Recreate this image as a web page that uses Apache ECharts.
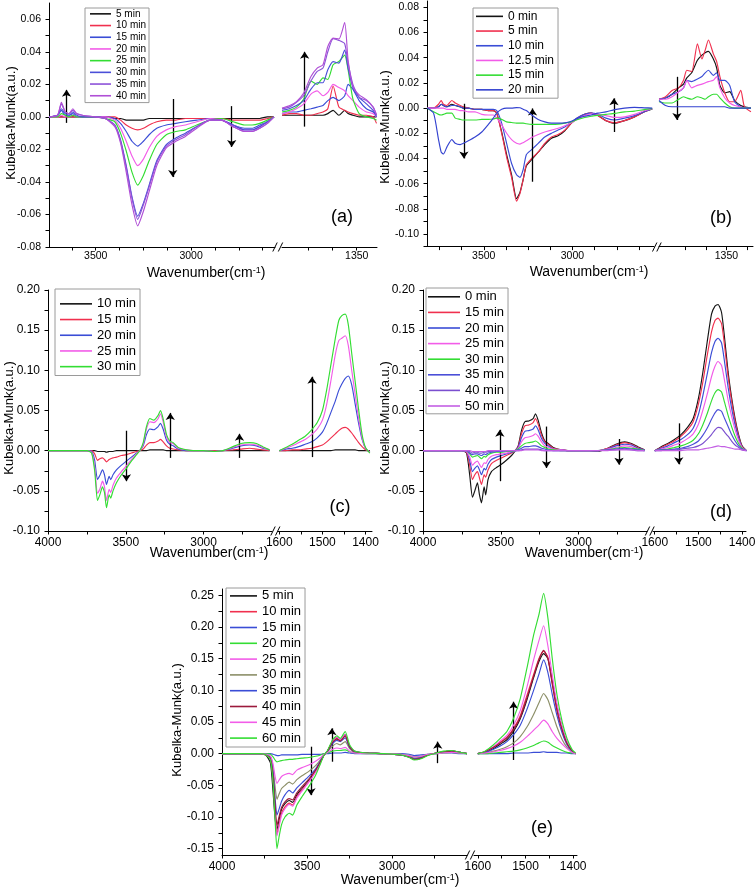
<!DOCTYPE html>
<html><head><meta charset="utf-8">
<script src="https://cdn.jsdelivr.net/npm/echarts@6/dist/echarts.min.js"></script>
<style>html,body{margin:0;padding:0;background:#fff}#c{width:756px;height:896px}</style>
</head><body><div id="c"></div>
<script>
const FF = '"Liberation Sans", Arial, sans-serif';

// ---------------- Panel (a) ----------------
const aXL = [3745,3700,3680,3660,3640,3620,3600,3570,3500,3450, 3400,3370,3340,3310,3280,3250,3220,3180,3130,3080, 3030,2970,2900,2840,2780,2720,2680,2640,2600,2565];
const aXR = [1505,1490,1475,1460,1445,1432,1420,1410,1399,1387,1375,1368,1358,1345,1330,1316,1309];
const a05L = [0,0,0,0,0,0,0,0,0,0, -0.001,-0.001,-0.002,-0.002,-0.002,-0.002,-0.001,-0.001,-0.001,-0.001, -0.001,-0.001,-0.001,-0.001,-0.001,-0.001,-0.001,-0.001,0,0];
const a10L = [0,0,0,0,0,0,0,0,0,0, 0,-0.002,-0.005,-0.007,-0.008,-0.007,-0.005,-0.003,-0.002,-0.002, -0.001,-0.001,-0.001,-0.001,-0.002,-0.002,-0.002,-0.002,-0.001,0];
const a15L = [0,0.001,0.004,0.001,0.001,0.002,0,0,0,0, -0.001,-0.004,-0.009,-0.015,-0.018,-0.015,-0.011,-0.007,-0.005,-0.004, -0.003,-0.002,-0.001,-0.002,-0.005,-0.007,-0.007,-0.005,-0.003,0];
const a20L = [0,0,0.001,0,0,0.001,0,0,0,0, -0.002,-0.007,-0.015,-0.024,-0.030,-0.026,-0.019,-0.012,-0.008,-0.006, -0.005,-0.003,-0.001,-0.002,-0.005,-0.008,-0.008,-0.006,-0.003,0];
const a25L = [0,0,0.002,0.001,0,0.001,0,0,0,-0.001, -0.003,-0.010,-0.021,-0.034,-0.042,-0.036,-0.027,-0.017,-0.011,-0.009, -0.008,-0.005,-0.002,-0.001,-0.003,-0.005,-0.005,-0.004,-0.002,0];
const a30L = [0,0.001,0.005,0.002,0.001,0.003,0.001,0,0,-0.001, -0.005,-0.014,-0.030,-0.049,-0.061,-0.053,-0.042,-0.027,-0.017,-0.013, -0.010,-0.006,-0.002,-0.002,-0.005,-0.008,-0.008,-0.006,-0.003,0];
const a35L = [0,0.001,0.008,0.003,0.002,0.004,0.002,0.001,0,-0.001, -0.005,-0.015,-0.031,-0.050,-0.063,-0.054,-0.043,-0.028,-0.018,-0.014, -0.011,-0.006,-0.002,-0.002,-0.006,-0.009,-0.009,-0.007,-0.004,0];
const a40L = [0,0.001,0.009,0.003,0.002,0.005,0.002,0.001,0,-0.001, -0.006,-0.016,-0.034,-0.054,-0.067,-0.058,-0.046,-0.030,-0.019,-0.015, -0.012,-0.007,-0.002,-0.002,-0.006,-0.009,-0.009,-0.007,-0.004,0];
const a05R = [0.001,0.001,0.001,0.001,0.001,0.001,0.001,0.002,0.004,0.001,0.004,0.002,0.001,0,0,0,0];
const a10R = [0.001,0.002,0.002,0.001,0.001,0.002,0.003,0.005,0.019,0.006,0.004,0.003,0.002,0.001,0.001,0,-0.004];
const a15R = [0.002,0.003,0.003,0.004,0.005,0.006,0.007,0.010,0.012,0.010,0.013,0.020,0.017,0.010,0.005,0.003,0.001];
const a20R = [0.002,0.003,0.005,0.008,0.014,0.016,0.013,0.015,0.020,0.018,0.016,0.013,0.010,0.006,0.003,0.002,0];
const a25R = [0.003,0.004,0.006,0.011,0.022,0.020,0.024,0.023,0.032,0.034,0.038,0.029,0.011,0.002,0,-0.001,-0.002];
const a30R = [0.004,0.005,0.007,0.010,0.017,0.021,0.021,0.029,0.034,0.033,0.041,0.030,0.018,0.012,0.008,0.004,0];
const a35R = [0.005,0.006,0.009,0.013,0.022,0.028,0.030,0.040,0.048,0.047,0.045,0.033,0.020,0.012,0.010,0.006,0.001];
const a40R = [0.0054,0.0068,0.0094,0.0146,0.0248,0.030,0.032,0.0433,0.0484,0.0478,0.058,0.035,0.0186,0.0135,0.0105,0.006,0.0012];
const aYLabels = [-0.08,-0.06,-0.04,-0.02,0,0.02,0.04,0.06];
const aYTicks = [-0.08,-0.07,-0.06,-0.05,-0.04,-0.03,-0.02,-0.01,0,0.01,0.02,0.03,0.04,0.05,0.06];
const aXLabelsL = [3500,3000];
const aXTicksL = [3625,3500,3375,3250,3125,3000,2875,2750,2625];
const aXLabelsR = [1350];
const aXTicksR = [1450,1400,1350];
const aArrows = [['L',3653,-0.0037,0.0166],['L',3096,0.011,-0.037],['L',2787,0.0066,-0.0185],['R',1458,-0.006,0.040]];

// ---------------- Panel (b) ----------------
const bXL = [3820,3783,3755,3740,3727,3708,3680,3661,3633,3615, 3587,3549,3511,3474,3446,3427,3399,3371,3343,3315, 3296,3278,3260,3230,3193,3156,3118,3081,3043,3006, 2969,2931,2894,2857,2811,2762,2706,2650,2594,2550];
const bXR = [1515,1499,1483,1467,1455,1447,1435,1421,1410,1402,1394,1382,1374,1366,1354,1342,1330,1315,1306,1290];
const b00L = [0,0,0.001,0.003,0.002,0.001,0.003,0.002,0.001,0, 0,-0.001,-0.001,-0.002,-0.002,-0.004,-0.019,-0.037,-0.053,-0.072, -0.067,-0.057,-0.046,-0.041,-0.035,-0.029,-0.024,-0.022,-0.018,-0.012, -0.008,-0.005,-0.004,-0.006,-0.010,-0.012,-0.010,-0.007,-0.003,-0.001];
const b05L = [0,0,0.003,0.006,0.003,0.002,0.006,0.004,0.002,0.001, 0,-0.001,-0.001,-0.002,-0.002,-0.004,-0.020,-0.039,-0.055,-0.074, -0.068,-0.057,-0.045,-0.040,-0.035,-0.028,-0.023,-0.021,-0.0175,-0.012, -0.0075,-0.005,-0.004,-0.006,-0.010,-0.0117,-0.010,-0.007,-0.003,-0.0005];
const b10L = [0,0,0.001,0.003,0.002,0.001,0.002,0.002,0.001,0, 0,-0.001,-0.001,-0.001,-0.001,-0.002,-0.012,-0.028,-0.044,-0.053, -0.055,-0.049,-0.037,-0.033,-0.028,-0.023,-0.020,-0.0175,-0.015,-0.011, -0.0074,-0.005,-0.004,-0.005,-0.008,-0.0095,-0.008,-0.006,-0.003,-0.0005];
const b125L = [0,0,0,0,0,-0.001,-0.001,-0.001,-0.002,-0.002, -0.003,-0.003,-0.005,-0.0055,-0.0055,-0.008,-0.0134,-0.020,-0.025,-0.028, -0.0286,-0.0275,-0.026,-0.0233,-0.021,-0.019,-0.0175,-0.016,-0.014,-0.0117, -0.0085,-0.006,-0.0045,-0.0048,-0.006,-0.0074,-0.007,-0.005,-0.002,-0.0005];
const b15L = [0,-0.003,-0.005,-0.0055,-0.005,-0.004,-0.004,-0.008,-0.009,-0.0095, -0.0095,-0.0095,-0.009,-0.009,-0.0087,-0.008,-0.009,-0.011,-0.0115,-0.012, -0.012,-0.012,-0.0125,-0.013,-0.013,-0.013,-0.013,-0.0128,-0.012,-0.011, -0.009,-0.0075,-0.0065,-0.0058,-0.005,-0.0042,-0.003,-0.0024,-0.0012,-0.0005];
const b20L = [0,-0.004,-0.025,-0.035,-0.0365,-0.031,-0.025,-0.028,-0.029,-0.028, -0.026,-0.023,-0.019,-0.013,-0.008,-0.004,-0.001,0,0,0.0003, 0.0002,-0.001,-0.002,-0.0055,-0.009,-0.011,-0.012,-0.012,-0.0118,-0.0105, -0.008,-0.0065,-0.0055,-0.004,-0.003,-0.0012,0,0.0005,0.0002,0];
const b00R = [0.007,0.008,0.011,0.016,0.019,0.024,0.028,0.038,0.042,0.044,0.045,0.039,0.032,0.018,0.012,0.013,0.006,0.002,0.001,0];
const b05R = [0.007,0.009,0.014,0.016,0.022,0.030,0.029,0.051,0.039,0.046,0.054,0.043,0.037,0.025,0.012,0.005,0.005,0.014,0.001,-0.003];
const b10R = [0.007,0.008,0.011,0.013,0.016,0.022,0.021,0.023,0.025,0.028,0.030,0.026,0.028,0.022,0.022,0.018,0.005,0.001,0,0];
const b125R = [0.007,0.007,0.009,0.013,0.016,0.022,0.016,0.018,0.019,0.020,0.021,0.022,0.025,0.016,0.008,0.004,0.002,0.001,0,0];
const b15R = [0.005,0.004,0.004,0.007,0.009,0.008,0.007,0.009,0.008,0.007,0.009,0.011,0.011,0.008,0.004,0.001,0,0,0,0];
const b20R = [0.006,0.002,0.001,0.001,0.001,0.001,0.001,0.001,0.001,0.001,0.001,0.001,0.001,0.001,0.001,0,0,0,0,0];
const bYLabels = [-0.10,-0.08,-0.06,-0.04,-0.02,0,0.02,0.04,0.06,0.08];
const bYTicks = [-0.11,-0.10,-0.09,-0.08,-0.07,-0.06,-0.05,-0.04,-0.03,-0.02,-0.01,0,0.01,0.02,0.03,0.04,0.05,0.06,0.07,0.08];
const bXLabelsL = [3500,3000];
const bXTicksL = [3750,3625,3500,3375,3250,3125,3000,2875,2750,2625];
const bXLabelsR = [1350];
const bXTicksR = [1450,1400,1350,1300];
const bArrows = [['L',3612,0.0034,-0.040],['L',3225,-0.0585,-0.0003],['L',2766,-0.019,0.0077],['R',1471,0.0248,-0.0095]];

// ---------------- Panels (c) and (d) ----------------
const cdXL = [4000,3850,3750,3720,3700,3682,3667,3650,3637,3624, 3607,3597,3582,3560,3528,3496,3464,3431,3410,3388, 3367,3345,3320,3292,3277,3260,3238,3217,3195,3163, 3109,3066,3000,2930,2876,2812,2760,2704,2660,2619, 2576];
const cdXR = [1600,1585,1570,1555,1540,1525,1512,1500,1490,1480,1470,1462,1455,1447,1440,1432,1424,1416,1408,1400,1390];
const c10L = [0,0,0,0,0,-0.001,-0.001,-0.001,-0.001,-0.002, -0.001,-0.001,-0.001,0,0,0,0,0,0,0, 0,0.001,0.001,0.001,0.001,0.001,0,0,0,0, 0,0,0,0,0,0,0,0,0,0, 0];
const c15L = [0,0,0,0,-0.004,-0.012,-0.010,-0.009,-0.011,-0.014, -0.011,-0.010,-0.009,-0.008,-0.006,-0.005,-0.003,-0.001,0,0.002, 0.007,0.010,0.010,0.012,0.014,0.011,0.006,0.003,0.002,0.001, 0,0,0,0,0,0.001,0.002,0.003,0.002,0.001, 0];
const c20L = [0,0,0,-0.001,-0.012,-0.036,-0.031,-0.024,-0.030,-0.042, -0.032,-0.036,-0.030,-0.024,-0.018,-0.013,-0.008,-0.003,0,0.006, 0.020,0.027,0.026,0.030,0.034,0.027,0.013,0.008,0.006,0.002, 0,0,0,-0.001,0,0.003,0.006,0.007,0.006,0.003, 0.001];
const c25L = [0,0,0,-0.002,-0.020,-0.053,-0.048,-0.038,-0.045,-0.062, -0.048,-0.052,-0.043,-0.034,-0.026,-0.019,-0.011,-0.004,0,0.008, 0.027,0.036,0.035,0.040,0.046,0.036,0.017,0.010,0.009,0.003, 0.001,0,0,-0.001,0,0.004,0.007,0.008,0.007,0.004, 0.001];
const c30L = [0,0,0,-0.003,-0.025,-0.062,-0.055,-0.045,-0.052,-0.071, -0.055,-0.059,-0.050,-0.040,-0.030,-0.022,-0.013,-0.005,0,0.010, 0.030,0.040,0.038,0.044,0.050,0.040,0.020,0.012,0.010,0.004, 0.001,0,0,-0.001,0,0.005,0.009,0.010,0.009,0.005, 0.001];
const c10R = [0,0,0,0,0,0,0,0,0,0,0.001,0.001,0.001,0.001,0.001,0.001,0.001,0,0,0,0];
const c15R = [0,0,0.001,0.001,0.002,0.003,0.005,0.007,0.011,0.016,0.021,0.025,0.028,0.029,0.027,0.022,0.016,0.010,0.005,0.001,-0.001];
const c20R = [0,0.002,0.003,0.005,0.008,0.011,0.016,0.023,0.034,0.048,0.062,0.075,0.083,0.090,0.093,0.082,0.058,0.034,0.014,0.003,-0.002];
const c25R = [0,0.003,0.006,0.010,0.014,0.020,0.027,0.038,0.058,0.088,0.120,0.137,0.140,0.143,0.131,0.100,0.070,0.040,0.016,0.003,-0.002];
const c30R = [0,0.004,0.008,0.013,0.018,0.026,0.035,0.050,0.076,0.108,0.140,0.162,0.168,0.170,0.157,0.121,0.086,0.051,0.020,0.004,-0.003];
const d00L = [0,0,0,-0.003,-0.030,-0.058,-0.050,-0.040,-0.055,-0.065, -0.045,-0.055,-0.036,-0.026,-0.021,-0.017,-0.012,-0.006,-0.001,0.006, 0.025,0.036,0.037,0.040,0.046,0.038,0.022,0.012,0.009,0.004, 0.001,0,0,0,-0.001,0.003,0.008,0.011,0.009,0.005, 0.001];
const d15L = [0,0,0,-0.002,-0.018,-0.036,-0.030,-0.026,-0.034,-0.042, -0.030,-0.033,-0.024,-0.016,-0.012,-0.009,-0.006,-0.003,0,0.005, 0.021,0.031,0.032,0.035,0.040,0.033,0.019,0.011,0.008,0.003, 0.001,0,0,0,0,0.003,0.007,0.010,0.008,0.004, 0.001];
const d20L = [0,0,0,-0.001,-0.012,-0.026,-0.022,-0.019,-0.024,-0.030, -0.022,-0.024,-0.017,-0.011,-0.008,-0.006,-0.004,-0.002,0,0.004, 0.016,0.024,0.025,0.027,0.031,0.026,0.015,0.009,0.006,0.002, 0.001,0,0,0,0,0.002,0.006,0.008,0.007,0.003, 0.001];
const d25L = [0,0,0,-0.001,-0.008,-0.018,-0.015,-0.013,-0.017,-0.021, -0.015,-0.016,-0.011,-0.007,-0.005,-0.004,-0.003,-0.001,0,0.003, 0.011,0.016,0.017,0.019,0.021,0.018,0.011,0.006,0.004,0.002, 0.001,0,0,0,0,0.002,0.004,0.006,0.005,0.002, 0];
const d30L = [0,0,0,0,-0.004,-0.008,-0.007,-0.006,-0.008,-0.010, -0.007,-0.008,-0.005,-0.003,-0.002,-0.002,-0.001,-0.001,0,0.002, 0.006,0.009,0.010,0.011,0.012,0.010,0.006,0.004,0.002,0.001, 0,0,0,0,0,0.001,0.003,0.004,0.003,0.002, 0];
const d35L = [0,0,0,0,-0.003,-0.005,-0.004,-0.004,-0.005,-0.006, -0.004,-0.005,-0.003,-0.002,-0.001,-0.001,0,0,0,0.001, 0.003,0.005,0.005,0.006,0.006,0.005,0.003,0.002,0.001,0, 0,0,0,0,0,0.001,0.002,0.003,0.002,0.001, 0];
const d40L = [0,0,0,0,-0.001,-0.003,-0.002,-0.002,-0.003,-0.003, -0.002,-0.002,-0.001,-0.001,0,0,0,0,0,0, 0.001,0.002,0.002,0.002,0.002,0.002,0.001,0,0,0, 0,0,0,0,0,0.001,0.001,0.002,0.001,0, 0];
const d50L = [0,0,0,0,0,-0.001,-0.001,-0.001,-0.001,-0.001, -0.001,-0.001,0,0,0,0,0,0,0,0, 0,0.001,0.001,0.001,0.001,0.001,0,0,0,0, 0,0,0,0,0,0,0.001,0.001,0.001,0, 0];
const d00R = [0,0.005,0.009,0.014,0.020,0.029,0.040,0.065,0.097,0.135,0.170,0.180,0.182,0.172,0.140,0.098,0.066,0.040,0.020,0.006,0];
const d15R = [0,0.004,0.008,0.012,0.018,0.026,0.036,0.058,0.085,0.118,0.148,0.162,0.165,0.158,0.130,0.092,0.062,0.037,0.018,0.005,0];
const d20R = [0,0.003,0.006,0.010,0.014,0.020,0.028,0.045,0.068,0.095,0.122,0.136,0.140,0.134,0.110,0.079,0.053,0.032,0.016,0.004,0];
const d25R = [0,0.002,0.004,0.007,0.010,0.015,0.021,0.033,0.050,0.070,0.092,0.105,0.111,0.106,0.087,0.063,0.043,0.026,0.013,0.004,0];
const d30R = [0,0.001,0.002,0.004,0.006,0.009,0.013,0.021,0.032,0.046,0.062,0.072,0.076,0.073,0.060,0.044,0.030,0.018,0.009,0.003,0];
const d35R = [0,0.001,0.001,0.002,0.003,0.005,0.008,0.012,0.019,0.028,0.039,0.047,0.051,0.049,0.040,0.030,0.020,0.012,0.006,0.002,0];
const d40R = [0,0,0.001,0.001,0.002,0.003,0.004,0.006,0.009,0.014,0.020,0.026,0.029,0.028,0.023,0.018,0.012,0.007,0.004,0.001,0];
const d50R = [0,0,0,0,0,0.001,0.001,0.001,0.002,0.003,0.004,0.005,0.006,0.005,0.005,0.004,0.003,0.002,0.002,0.001,0];
const cdYLabels = [-0.10,-0.05,0,0.05,0.10,0.15,0.20];
const cdYTicks = [-0.10,-0.075,-0.05,-0.025,0,0.025,0.05,0.075,0.10,0.125,0.15,0.175,0.20];
const cdeXLabelsL = [4000,3500,3000];
const cdeXTicksL = [4000,3750,3500,3250,3000,2750];
const cdeXLabelsR = [1600,1500,1400];
const cdeXTicksR = [1600,1550,1500,1450,1400];
const cArrows = [['L',3496,0.0248,-0.038],['L',3214,-0.009,0.047],['L',2769,-0.009,0.021],['R',1524,-0.008,0.092]];
const dArrows = [['L',3506,-0.038,0.026],['L',3206,0.030,-0.0215],['L',2740,0.0145,-0.0174],['R',1545,0.034,-0.017]];

// ---------------- Panel (e) ----------------
const eXL = [4000,3780,3740,3715,3700,3688,3677,3665,3650,3630, 3605,3585,3560,3530,3490,3450,3420,3400,3380,3350, 3325,3305,3276,3250,3220,3150,3050,2950,2900,2870, 2830,2790,2740,2700,2650,2600,2560];
const eXR = [1600,1585,1567,1553,1539,1525,1511,1497,1483,1472,1462,1453,1444,1434,1423,1413,1402,1395];
const e05L = [0,0,-0.003,-0.015,-0.060,-0.102,-0.120,-0.105,-0.088,-0.079, -0.074,-0.077,-0.065,-0.055,-0.042,-0.027,-0.012,-0.002,0.004,0.019, 0.025,0.021,0.030,0.011,0.003,0.001,0,-0.002,-0.005,-0.009, -0.007,-0.002,0.001,0.003,0.004,0.002,0];
const e10L = [0,0,-0.002,-0.008,-0.038,-0.090,-0.127,-0.112,-0.094,-0.084, -0.078,-0.081,-0.068,-0.057,-0.044,-0.028,-0.013,-0.002,0.004,0.019, 0.025,0.021,0.029,0.011,0.003,0.001,0,-0.002,-0.005,-0.009, -0.007,-0.002,0.001,0.003,0.004,0.002,0];
const e15L = [0,0,0,0,-0.001,-0.002,-0.003,-0.003,-0.002,-0.002, -0.002,-0.002,-0.002,-0.001,-0.001,-0.001,-0.001,0,0,0.001, 0.001,0.001,0.002,0.001,0,0,0,0,-0.001,-0.003, -0.002,-0.001,0,0.001,0.001,0,0];
const e20L = [0,0,0,-0.001,-0.005,-0.010,-0.013,-0.012,-0.011,-0.010, -0.009,-0.009,-0.008,-0.007,-0.006,-0.004,-0.002,0,0.001,0.004, 0.005,0.005,0.006,0.003,0.001,0,0,-0.001,-0.003,-0.005, -0.004,-0.001,0,0.001,0.002,0.001,0];
const e25L = [0,0,-0.002,-0.008,-0.040,-0.093,-0.130,-0.116,-0.097,-0.087, -0.080,-0.083,-0.070,-0.059,-0.045,-0.029,-0.013,-0.002,0.004,0.020, 0.026,0.022,0.030,0.012,0.004,0.001,0,-0.002,-0.005,-0.009, -0.007,-0.002,0.001,0.003,0.004,0.002,0];
const e30L = [0,0,-0.001,-0.005,-0.022,-0.052,-0.072,-0.064,-0.055,-0.050, -0.045,-0.048,-0.041,-0.035,-0.028,-0.019,-0.009,-0.001,0.003,0.012, 0.016,0.014,0.019,0.008,0.002,0.001,0,-0.001,-0.004,-0.007, -0.005,-0.002,0.001,0.002,0.003,0.001,0];
const e35L = [0,0,-0.001,-0.006,-0.029,-0.070,-0.097,-0.088,-0.075,-0.065, -0.058,-0.062,-0.054,-0.046,-0.036,-0.024,-0.011,-0.002,0.004,0.016, 0.021,0.019,0.025,0.010,0.003,0.001,0,-0.002,-0.005,-0.008, -0.006,-0.002,0.001,0.003,0.004,0.002,0];
const e40L = [0,0,-0.002,-0.007,-0.034,-0.080,-0.113,-0.100,-0.085,-0.076, -0.071,-0.073,-0.062,-0.052,-0.040,-0.026,-0.012,-0.002,0.004,0.018, 0.023,0.020,0.028,0.011,0.003,0.001,0,-0.002,-0.005,-0.009, -0.007,-0.002,0.001,0.003,0.004,0.002,0];
const e45L = [0,0,-0.001,-0.004,-0.016,-0.036,-0.047,-0.042,-0.036,-0.033, -0.031,-0.033,-0.026,-0.022,-0.018,-0.012,-0.006,-0.001,0.002,0.007, 0.009,0.008,0.010,0.004,0.001,0,0,-0.001,-0.003,-0.005, -0.004,-0.001,0,0.001,0.002,0.001,0];
const e60L = [0,0,-0.002,-0.010,-0.045,-0.105,-0.150,-0.132,-0.112,-0.100, -0.094,-0.097,-0.081,-0.068,-0.052,-0.034,-0.015,-0.002,0.005,0.022, 0.028,0.024,0.035,0.014,0.004,0.001,0,-0.002,-0.006,-0.010, -0.008,-0.003,0.001,0.004,0.005,0.002,0];
const e05R = [0,0.002,0.008,0.015,0.022,0.035,0.055,0.085,0.120,0.145,0.158,0.150,0.115,0.075,0.040,0.018,0.004,0];
const e10R = [0,0.003,0.010,0.018,0.026,0.040,0.060,0.092,0.125,0.150,0.162,0.152,0.112,0.070,0.038,0.017,0.004,0];
const e15R = [0,0,0,0,0,0.001,0.001,0.001,0.002,0.002,0.003,0.002,0.002,0.002,0.001,0.001,0,0];
const e20R = [0,0,0.001,0.002,0.003,0.004,0.006,0.009,0.013,0.017,0.020,0.018,0.013,0.009,0.005,0.002,0.001,0];
const e25R = [0,0.003,0.011,0.020,0.029,0.045,0.068,0.105,0.148,0.178,0.202,0.170,0.125,0.078,0.042,0.019,0.005,0];
const e30R = [0,0.001,0.004,0.007,0.011,0.017,0.027,0.042,0.062,0.080,0.095,0.085,0.065,0.042,0.022,0.010,0.002,0];
const e35R = [0,0.002,0.007,0.012,0.019,0.030,0.045,0.070,0.100,0.125,0.148,0.128,0.094,0.060,0.032,0.014,0.003,0];
const e40R = [0,0.003,0.010,0.017,0.025,0.038,0.057,0.088,0.122,0.148,0.163,0.150,0.110,0.068,0.037,0.016,0.004,0];
const e45R = [0,0.001,0.003,0.005,0.008,0.012,0.018,0.027,0.037,0.045,0.053,0.047,0.035,0.024,0.015,0.008,0.002,0];
const e60R = [0,0.004,0.014,0.024,0.035,0.056,0.087,0.135,0.187,0.219,0.253,0.214,0.151,0.093,0.050,0.024,0.006,0.001];
const eYLabels = [-0.15,-0.10,-0.05,0,0.05,0.10,0.15,0.20,0.25];
const eYTicks = [-0.15,-0.125,-0.10,-0.075,-0.05,-0.025,0,0.025,0.05,0.075,0.10,0.125,0.15,0.175,0.20,0.225,0.25];
const eArrows = [['L',3477,0.011,-0.0655],['L',3354,-0.0127,0.040],['L',2732,-0.015,0.019],['R',1525,-0.010,0.082]];

// ---------------- colours ----------------
const C = {black:'#141414', red:'#f0304e', blue:'#3a4dd6', magenta:'#f25ce8', green:'#33dd33',
  blueA:'#4b4fd8', purple:'#8d52d8', violet:'#b04fd6', blueB:'#3342d0', purpleD:'#7b4fcf', pinkD:'#c35fe4',
  olive:'#8c8f68', darkred:'#9c1a3c'};

const panels = [
 {key:'a', yMin:-0.08, yMax:0.07, top:3, height:244, yLabels:aYLabels, yTicks:aYTicks, fs:10.5, xm:4, ym:8,
  L:{left:49,width:226,min:2560,max:3745,labels:aXLabelsL,ticks:aXTicksL,x:aXL},
  R:{left:282,width:95,min:1308,max:1505,labels:aXLabelsR,ticks:aXTicksR,x:aXR},
  series:[['5 min',C.black,a05L,a05R],['10 min',C.red,a10L,a10R],['15 min',C.blue,a15L,a15R],['20 min',C.magenta,a20L,a20R],
          ['25 min',C.green,a25L,a25R],['30 min',C.blueA,a30L,a30R],['35 min',C.purple,a35L,a35R],['40 min',C.violet,a40L,a40R]],
  arrows:aArrows,
  legend:{left:85,top:8,padding:[0,3,1,5],itemWidth:21,fontSize:10,lineHeight:11.7},
  title:[206,273], yname:[11,123], tag:['(a)',342,217], brk:[275,280.5], brkY:247},
 {key:'b', yMin:-0.11, yMax:0.085, top:1, height:245.6, yLabels:bYLabels, yTicks:bYTicks, fs:10.5, xm:4, ym:8,
  L:{left:427,width:227,min:2540,max:3820,labels:bXLabelsL,ticks:bXTicksL,x:bXL},
  R:{left:659,width:94,min:1285,max:1515,labels:bXLabelsR,ticks:bXTicksR,x:bXR},
  series:[['0 min',C.black,b00L,b00R],['5 min',C.red,b05L,b05R],['10 min',C.blue,b10L,b10R],['12.5 min',C.magenta,b125L,b125R],
          ['15 min',C.green,b15L,b15R],['20 min',C.blueB,b20L,b20R]],
  arrows:bArrows,
  legend:{left:473,top:8,padding:[1,4,1,3],itemWidth:27,fontSize:12,lineHeight:14.7},
  title:[589,272], yname:[385,127], tag:['(b)',721,218], brk:[654.7,659], brkY:247},
 {key:'c', yMin:-0.10, yMax:0.20, top:290, height:241, yLabels:cdYLabels, yTicks:cdYTicks, fs:12, xm:6, ym:8,
  L:{left:48,width:224,min:2560,max:4000,labels:cdeXLabelsL,ticks:cdeXTicksL,x:cdXL},
  R:{left:278,width:94,min:1385,max:1603,labels:cdeXLabelsR,ticks:cdeXTicksR,x:cdXR},
  series:[['10 min',C.black,c10L,c10R],['15 min',C.red,c15L,c15R],['20 min',C.blue,c20L,c20R],['25 min',C.magenta,c25L,c25R],['30 min',C.green,c30L,c30R]],
  arrows:cArrows,
  legend:{left:55,top:289,padding:[7,4,1,5],itemWidth:32,fontSize:13,lineHeight:15.7},
  title:[209,553], yname:[9,418], tag:['(c)',340,507], brk:[273,277.7], brkY:531},
 {key:'d', yMin:-0.10, yMax:0.20, top:290, height:241, yLabels:cdYLabels, yTicks:cdYTicks, fs:12, xm:6, ym:8,
  L:{left:423,width:224,min:2560,max:4000,labels:cdeXLabelsL,ticks:cdeXTicksL,x:cdXL},
  R:{left:653,width:93,min:1391,max:1604,labels:cdeXLabelsR,ticks:cdeXTicksR,x:cdXR},
  series:[['0 min',C.black,d00L,d00R],['15 min',C.red,d15L,d15R],['20 min',C.blue,d20L,d20R],['25 min',C.magenta,d25L,d25R],
          ['30 min',C.green,d30L,d30R],['35 min',C.blueA,d35L,d35R],['40 min',C.purpleD,d40L,d40R],['50 min',C.pinkD,d50L,d50R]],
  arrows:dArrows,
  legend:{left:426,top:288,padding:[1,4,0,2],itemWidth:32,fontSize:13,lineHeight:15.6},
  title:[584,553], yname:[385,418], tag:['(d)',721,512], brk:[647.5,652], brkY:531},
 {key:'e', yMin:-0.16, yMax:0.26, top:589, height:266, yLabels:eYLabels, yTicks:eYTicks, fs:12, xm:6, ym:8,
  L:{left:222,width:245,min:2560,max:4000,labels:cdeXLabelsL,ticks:cdeXTicksL,x:eXL},
  R:{left:474,width:103,min:1392,max:1608,labels:cdeXLabelsR,ticks:cdeXTicksR,x:eXR},
  series:[['5 min',C.black,e05L,e05R],['10 min',C.red,e10L,e10R],['15 min',C.blue,e15L,e15R],['20 min',C.green,e20L,e20R],
          ['25 min',C.magenta,e25L,e25R],['30 min',C.olive,e30L,e30R],['35 min',C.blue,e35L,e35R],['40 min',C.darkred,e40L,e40R],
          ['45 min',C.magenta,e45L,e45R],['60 min',C.green,e60L,e60R]],
  arrows:eArrows,
  legend:{left:226,top:588,padding:[0,4,1,4],itemWidth:27,fontSize:13,lineHeight:15.8},
  title:[400,880], yname:[177,720], tag:['(e)',542,828], brk:[467.5,472.5], brkY:855}
];

function pair(xs, ys, tag){
  if (xs.length !== ys.length) throw new Error('length mismatch ' + tag + ': ' + xs.length + ' vs ' + ys.length);
  return xs.map((x, i) => [x, ys[i]]);
}

const grid = [], xAxis = [], yAxis = [], series = [], legend = [], graphic = [];
const axisCol = '#000';

panels.forEach(p => {
  const gi = grid.length;
  grid.push({left:p.L.left, top:p.top, width:p.L.width, height:p.height, containLabel:false, outerBoundsMode:'none'});
  grid.push({left:p.R.left, top:p.top, width:p.R.width, height:p.height, containLabel:false, outerBoundsMode:'none'});
  [p.L, p.R].forEach((s, k) => {
    xAxis.push({gridIndex:gi+k, type:'value', inverse:true, min:s.min, max:s.max,
      axisLine:{show:true, onZero:false, lineStyle:{color:axisCol, width:1}},
      axisTick:{show:true, inside:false, length:3.5, customValues:s.ticks, lineStyle:{color:axisCol, width:1}},
      axisLabel:{show:true, customValues:s.labels, fontSize:p.fs, fontFamily:FF, color:'#000', margin:p.xm,
        formatter:v => String(Math.round(v))},
      splitLine:{show:false}});
    yAxis.push({gridIndex:gi+k, type:'value', min:p.yMin, max:p.yMax, show:k===0,
      axisLine:{show:true, onZero:false, lineStyle:{color:axisCol, width:1}},
      axisTick:{show:true, inside:false, length:3.5, customValues:p.yTicks, lineStyle:{color:axisCol, width:1}},
      axisLabel:{show:true, customValues:p.yLabels, fontSize:p.fs, fontFamily:FF, color:'#000', margin:p.ym,
        formatter:v => Number(v).toFixed(2)},
      splitLine:{show:false}});
  });
  const names = [];
  p.series.forEach((s, si) => {
    const nm = s[0] + '|' + p.key;
    names.push(nm);
    [[s[2], p.L.x, 0, 'L'], [s[3], p.R.x, 1, 'R']].forEach(([ys, xs, k, seg]) => {
      const ser = {type:'line', name:nm, xAxisIndex:gi+k, yAxisIndex:gi+k,
        data:pair(xs, ys, p.key + ' ' + s[0] + ' ' + seg), showSymbol:false, symbol:'none', smooth:0.2,
        color:s[1], itemStyle:{color:s[1]}, lineStyle:{color:s[1], width:1.15},
        silent:true, animation:false, z:2+si};
      if (si === 0) {
        const ar = p.arrows.filter(a => a[0] === seg);
        ser.markLine = {silent:true, animation:false, symbol:['none','arrow'], symbolSize:7,
          lineStyle:{color:'#000', width:1.3, type:'solid'}, label:{show:false}, emphasis:{disabled:true},
          data:ar.map(a => [{coord:[a[1], a[2]]}, {coord:[a[1], a[3]]}])};
      }
      series.push(ser);
    });
  });
  legend.push({orient:'vertical', left:p.legend.left, top:p.legend.top, padding:p.legend.padding,
    itemGap:0, itemWidth:p.legend.itemWidth, itemHeight:1.6, icon:'rect', selectedMode:false,
    borderColor:'#9a9a9a', borderWidth:1, backgroundColor:'#fff',
    textStyle:{fontSize:p.legend.fontSize, lineHeight:p.legend.lineHeight, fontFamily:FF, color:'#000'},
    data:names, formatter:n => n.split('|')[0]});
  graphic.push({type:'text', x:p.title[0], y:p.title[1], z:100, silent:true,
    style:{text:'Wavenumber(cm{s|-1})', fontSize:14, fontFamily:FF, fill:'#000', textAlign:'center', textVerticalAlign:'middle',
      rich:{s:{fontSize:9, fontFamily:FF, verticalAlign:'top', fill:'#000'}}}});
  graphic.push({type:'text', x:p.yname[0], y:p.yname[1], rotation:Math.PI/2, z:100, silent:true,
    style:{text:'Kubelka-Munk(a.u.)', fontSize:13, fontFamily:FF, fill:'#000', textAlign:'center', textVerticalAlign:'middle'}});
  graphic.push({type:'text', x:p.tag[1], y:p.tag[2], z:100, silent:true,
    style:{text:p.tag[0], fontSize:18, fontFamily:FF, fill:'#000', textAlign:'center', textVerticalAlign:'middle'}});
  p.brk.forEach(bx => graphic.push({type:'line', z:100, silent:true,
    shape:{x1:bx-2.2, y1:p.brkY+4.5, x2:bx+2.2, y2:p.brkY-4.5}, style:{stroke:'#000', lineWidth:1}}));
});

const chart = echarts.init(document.getElementById('c'), null, {renderer:'canvas'});
chart.setOption({animation:false, backgroundColor:'#fff', grid, xAxis, yAxis, series, legend, graphic});
</script></body></html>
